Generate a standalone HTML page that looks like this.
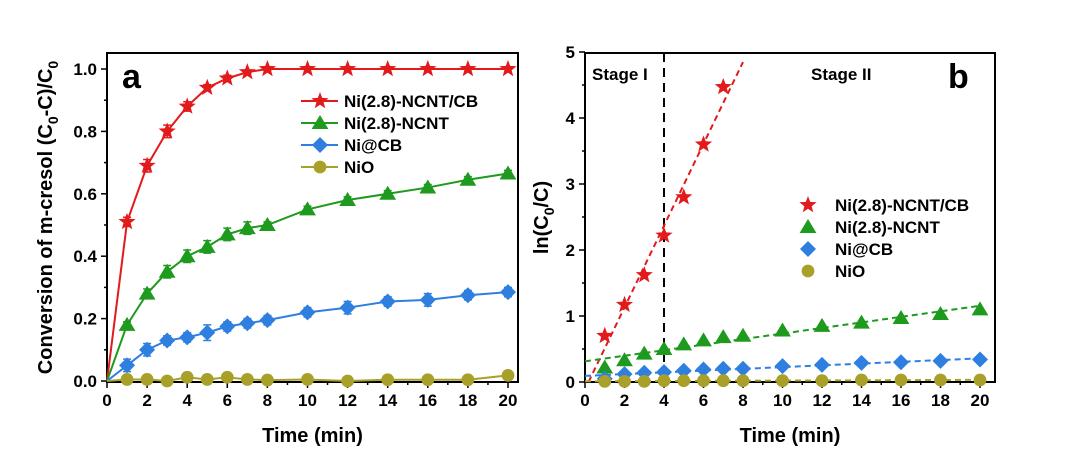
<!DOCTYPE html>
<html><head><meta charset="utf-8"><style>
body{margin:0;background:#fff;width:1080px;height:460px;overflow:hidden}
svg{font-family:"Liberation Sans",Arial,sans-serif;font-weight:bold}
</style></head><body>
<svg id="c" width="1080" height="460"></svg>
<script>
const times=[0,1,2,3,4,5,6,7,8,10,12,14,16,18,20];
const convRed=[0,0.51,0.69,0.80,0.88,0.94,0.97,0.99,1.0,1.0,1.0,1.0,1.0,1.0,1.0];
const convGreen=[0,0.18,0.28,0.35,0.40,0.43,0.47,0.49,0.50,0.55,0.58,0.60,0.62,0.645,0.665];
const convBlue=[0,0.05,0.10,0.13,0.14,0.155,0.175,0.185,0.195,0.22,0.235,0.255,0.26,0.275,0.285];
const convNiO=[0,0.005,0.005,0,0.012,0.005,0.012,0.005,0.003,0.005,0,0.004,0.004,0.004,0.018];
const errRed=[0,0.015,0.02,0.02,0.015,0.01,0.01,0.005,0.005,0,0,0,0,0,0];
const errGreen=[0,0.01,0.015,0.02,0.02,0.02,0.02,0.02,0.01,0.01,0.01,0.01,0.01,0.01,0.01];
const errBlue=[0,0.02,0.02,0.015,0.015,0.025,0.015,0.015,0.015,0.015,0.02,0.015,0.02,0.015,0.015];
const tB=[1,2,3,4,5,6,7,8,10,12,14,16,18,20];
const lnRedT=[1,2,3,4,5,6,7];
const lnRed=[0.7,1.17,1.62,2.22,2.8,3.6,4.47];
const lnGreen=[0.22,0.33,0.43,0.5,0.57,0.63,0.68,0.70,0.78,0.85,0.9,0.97,1.03,1.1];
const lnBlue=[0.05,0.12,0.14,0.15,0.17,0.19,0.20,0.20,0.24,0.26,0.29,0.3,0.32,0.34];
const lnNiO=[0.01,0.01,0.01,0.02,0.02,0.02,0.02,0.02,0.02,0.02,0.03,0.03,0.03,0.03];
const xTicks=[0,2,4,6,8,10,12,14,16,18,20];
const yTicksA=[0,0.2,0.4,0.6,0.8,1.0];
const yTicksB=[0,1,2,3,4,5];
const names=["Ni(2.8)-NCNT/CB","Ni(2.8)-NCNT","Ni@CB","NiO"];
const cols=["#e31a1c","#1e9a1e","#2f7fe0","#a8a028"];
const svg=document.getElementById('c');const NS="http://www.w3.org/2000/svg";
function el(t,a,p){const e=document.createElementNS(NS,t);for(const k in a)e.setAttribute(k,a[k]);(p||svg).appendChild(e);return e;}
function marker(type,x,y,s,c,g){
 let e;
 if(type==0){let pts=[];for(let i=0;i<10;i++){const r=i%2?s*0.42:s;const a=-Math.PI/2+i*Math.PI/5;pts.push((x+r*Math.cos(a)).toFixed(1)+','+(y+r*Math.sin(a)).toFixed(1));}e=el('polygon',{points:pts.join(' '),fill:c},g);}
 else if(type==1){e=el('polygon',{points:`${x},${y-s} ${x-s*1.05},${y+s*0.75} ${x+s*1.05},${y+s*0.75}`,fill:c},g);}
 else if(type==2){e=el('polygon',{points:`${x},${y-s} ${x+s},${y} ${x},${y+s} ${x-s},${y}`,fill:c},g);}
 else e=el('circle',{cx:x,cy:y,r:s*0.8,fill:c},g);
 
 
}
function axes(P,yT,fmt,ylab,letter){
 const g=el('g',{});
 el('rect',{x:P.l,y:P.t,width:P.r-P.l,height:P.b-P.t,fill:'none',stroke:'#000','stroke-width':2},g);
 xTicks.forEach(v=>{const x=P.x(v);el('line',{x1:x,x2:x,y1:P.b,y2:P.b+6,stroke:'#000','stroke-width':1.5},g);
  const t=el('text',{x:x,y:P.b+24,'text-anchor':'middle','font-size':17},g);t.textContent=v;
  });
 for(let v=1;v<20;v+=2){const x=P.x(v);el('line',{x1:x,x2:x,y1:P.b,y2:P.b+3,stroke:'#000','stroke-width':1.5},g);}
 yT.forEach((v,i)=>{const y=P.y(v);el('line',{x1:P.l-6,x2:P.l,y1:y,y2:y,stroke:'#000','stroke-width':1.5},g);
  if(i<yT.length-1){const ym=P.y((v+yT[i+1])/2);el('line',{x1:P.l-3,x2:P.l,y1:ym,y2:ym,stroke:'#000','stroke-width':1.5},g);}
  const t=el('text',{x:P.l-10,y:y+6,'text-anchor':'end','font-size':17},g);t.textContent=fmt(v);
  });
 const xt=el('text',{x:(P.l+P.r)/2,y:442,'text-anchor':'middle','font-size':20},g);xt.textContent='Time (min)';
 
 const yt=el('text',{transform:`translate(${P.yl},${(P.t+P.b)/2}) rotate(-90)`,'text-anchor':'middle','font-size':20},g);yt.innerHTML=ylab;
 
 const lt=el('text',{x:letter=='a'?122:948,y:88,'font-size':34},g);lt.textContent=letter;
 
}
const A={l:107,r:518,t:53,b:382,yl:52};A.x=v=>107+v*20.05;A.y=v=>381-v*312;
axes(A,yTicksA,v=>v.toFixed(1),'Conversion of m-cresol (C<tspan font-size="14" dy="6">0</tspan><tspan dy="-6">-C)/C</tspan><tspan font-size="14" dy="6">0</tspan>','a');
[[convRed,errRed],[convGreen,errGreen],[convBlue,errBlue],[convNiO,null]].forEach((s,k)=>{
 const g=el('g',{});
 el('polyline',{points:times.map((t,i)=>A.x(t)+','+A.y(s[0][i])).join(' '),fill:'none',stroke:cols[k],'stroke-width':2},g);
 times.forEach((t,i)=>{if(i==0)return;const x=A.x(t),y=A.y(s[0][i]);
  if(s[1]&&s[1][i]>0){const e=s[1][i]*312;el('path',{d:`M${x},${y-e}V${y+e}M${x-4},${y-e}h8M${x-4},${y+e}h8`,stroke:cols[k],'stroke-width':1.5},g);}
  marker(k,x,y,k==0?9:8,cols[k],g);});
});
names.forEach((n,k)=>{const y=101+k*22;const g=el('g',{});
 el('line',{x1:301,x2:338,y1:y,y2:y,stroke:cols[k],'stroke-width':2},g);marker(k,320,y,k==0?9:8,cols[k],g);
 const t=el('text',{x:344,y:y+6,'font-size':17},g);t.textContent=n;});
const B={l:585,r:995,t:53,b:382,yl:548};B.x=v=>585+v*19.75;B.y=v=>382-v*66;
axes(B,yTicksB,v=>v,'ln(C<tspan font-size="14" dy="6">0</tspan><tspan dy="-6">/C)</tspan>','b');
el('line',{x1:B.x(4),x2:B.x(4),y1:B.t,y2:B.b,stroke:'#000','stroke-width':2,'stroke-dasharray':'9,6'});
const s1=el('text',{x:592,y:80,'font-size':17});s1.textContent='Stage I';
const s2=el('text',{x:811,y:80,'font-size':17});s2.textContent='Stage II';
function fit(xs,ys){const n=xs.length;let mx=0,my=0;for(let i=0;i<n;i++){mx+=xs[i]/n;my+=ys[i]/n;}let a=0,b=0;for(let i=0;i<n;i++){a+=(xs[i]-mx)*(ys[i]-my);b+=(xs[i]-mx)**2;}const m=a/b;return [m,my-m*mx];}
[[lnRedT,lnRed,0,8],[tB,lnGreen,0,20],[tB,lnBlue,0,20],[tB,lnNiO,0,20]].forEach((s,k)=>{
 const g=el('g',{});
 const [m,c]=fit(s[0],s[1]);
 let x0=s[2];if(m*x0+c<0)x0=-c/m;
 el('line',{x1:B.x(x0),y1:B.y(m*x0+c),x2:B.x(s[3]),y2:B.y(m*s[3]+c),stroke:cols[k],'stroke-width':2,'stroke-dasharray':'6,4'},g);
 s[0].forEach((t,i)=>marker(k,B.x(t),B.y(s[1][i]),k==0?9:8,cols[k],g));
});
names.forEach((n,k)=>{const y=205+k*22;const g=el('g',{});
 marker(k,808,y,k==0?9:8,cols[k],g);const t=el('text',{x:835,y:y+6,'font-size':17},g);t.textContent=n;});
</script>
</body></html>
